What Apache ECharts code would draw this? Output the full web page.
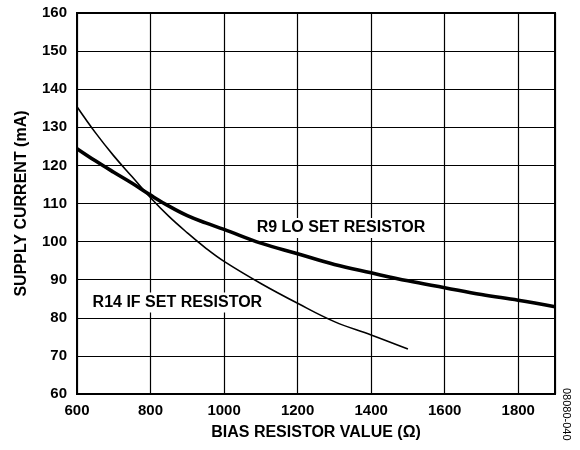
<!DOCTYPE html>
<html><head><meta charset="utf-8">
<script src="https://cdn.jsdelivr.net/npm/echarts@6/dist/echarts.min.js"></script>
<style>html,body{margin:0;padding:0;background:#fff}#c{width:580px;height:450px}</style>
</head><body><div id="c"></div>
<script>
const xTicks = [600, 800, 1000, 1200, 1400, 1600, 1800];
const yTicks = [60, 70, 80, 90, 100, 110, 120, 130, 140, 150, 160];
const loX = [600, 650, 700, 750, 800, 850, 900, 950, 1000, 1100, 1200, 1300, 1400, 1500, 1600, 1700, 1800, 1900];
const loY = [124.4, 121.2, 118.2, 115.3, 112.2, 109.3, 106.8, 104.9, 103.2, 99.6, 96.8, 94.0, 91.8, 89.7, 87.9, 86.1, 84.6, 82.9];
const ifX = [600, 650, 700, 750, 800, 850, 900, 950, 1000, 1100, 1200, 1300, 1400, 1500];
const ifY = [135.4, 128.6, 122.5, 117.0, 111.5, 106.6, 102.3, 98.3, 94.8, 89.0, 83.8, 79.0, 75.5, 71.8];
const loName = 'R9 LO SET RESISTOR';
const ifName = 'R14 IF SET RESISTOR';

const font = 'Arial, "Liberation Sans", sans-serif';
const lbl = {show: true, position: 'inside', fontFamily: font, fontWeight: 'bold', fontSize: 16, color: '#000', backgroundColor: '#fff', padding: [2, 3]};
const chart = echarts.init(document.getElementById('c'));
chart.setOption({
  animation: false,
  grid: {left: 77, right: 25, top: 13, bottom: 56, show: true, borderColor: '#000', borderWidth: 2},
  xAxis: {
    type: 'value', min: 600, max: 1900, interval: 200,
    name: 'BIAS RESISTOR VALUE (Ω)', nameLocation: 'middle', nameGap: 31,
    nameTextStyle: {fontFamily: font, fontWeight: 'bold', fontSize: 16, color: '#000'},
    axisLine: {show: false}, axisTick: {show: false},
    axisLabel: {fontFamily: font, fontWeight: 'bold', fontSize: 15, color: '#000', margin: 9,
      formatter: v => xTicks.includes(v) ? String(v) : ''},
    splitLine: {lineStyle: {color: '#000', width: 1.2}}
  },
  yAxis: {
    type: 'value', min: 60, max: 160, interval: 10,
    name: 'SUPPLY CURRENT (mA)', nameLocation: 'middle', nameGap: 47,
    nameTextStyle: {fontFamily: font, fontWeight: 'bold', fontSize: 16, color: '#000'},
    axisLine: {show: false}, axisTick: {show: false},
    axisLabel: {fontFamily: font, fontWeight: 'bold', fontSize: 15, color: '#000', margin: 10,
      formatter: v => yTicks.includes(v) ? String(v) : ''},
    splitLine: {lineStyle: {color: '#000', width: 1.2}}
  },
  series: [
    {name: loName, type: 'line', smooth: 0.4, symbol: 'none', z: 3,
      data: loX.map((x, i) => [x, loY[i]]),
      lineStyle: {color: '#000', width: 3.6},
      markPoint: {symbol: 'rect', symbolSize: 1, itemStyle: {color: 'rgba(0,0,0,0)'},
        data: [{coord: [1318, 103.6]}],
        label: Object.assign({formatter: loName}, lbl)}},
    {name: ifName, type: 'line', smooth: 0.4, symbol: 'none', z: 3,
      data: ifX.map((x, i) => [x, ifY[i]]),
      lineStyle: {color: '#000', width: 1.6},
      markPoint: {symbol: 'rect', symbolSize: 1, itemStyle: {color: 'rgba(0,0,0,0)'},
        data: [{coord: [873, 84.0]}],
        label: Object.assign({formatter: ifName}, lbl)}}
  ],
  graphic: [{type: 'text', left: 561, top: 388, rotation: -Math.PI / 2,
    style: {text: '08080-040', fontFamily: font, fontSize: 11, fill: '#000'}}]
});
</script></body></html>
